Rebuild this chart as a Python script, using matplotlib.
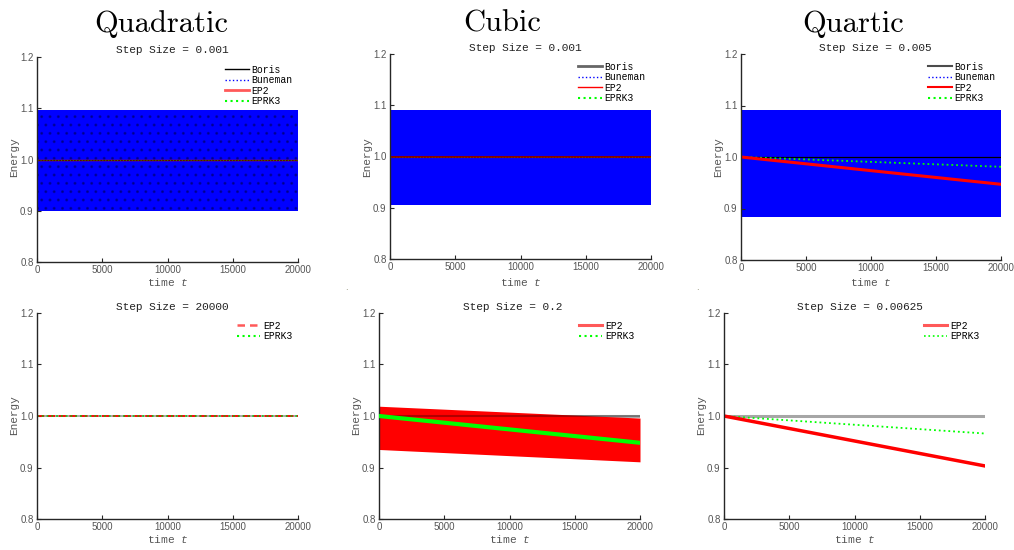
import matplotlib
matplotlib.use('Agg')
import matplotlib.pyplot as plt
from matplotlib.lines import Line2D

plt.rcParams['mathtext.fontset'] = 'custom'
plt.rcParams['mathtext.it'] = 'Liberation Mono:italic'
plt.rcParams['mathtext.rm'] = 'Liberation Mono'

# time span of every run
t_span = [0, 20000]
ref_energy = [1.0, 1.0]

# Quadratic potential, dt = 0.001
quad_boris = [1.0, 1.0]
quad_buneman_hi = [1.096, 1.096]
quad_buneman_lo = [0.900, 0.900]
quad_ep2 = [1.0, 1.0]
quad_eprk3 = [1.0, 1.0]

# Cubic potential, dt = 0.001
cub_boris = [1.0, 1.0]
cub_buneman_hi = [1.090, 1.090]
cub_buneman_lo = [0.905, 0.905]
cub_ep2 = [1.0, 1.0]
cub_eprk3 = [1.0, 1.0]

# Quartic potential, dt = 0.005
quar_boris = [1.0, 1.0]
quar_buneman_hi = [1.091, 1.091]
quar_buneman_lo = [0.883, 0.883]
quar_ep2 = [1.0, 0.947]
quar_eprk3 = [1.0, 0.981]

# large step runs (exponential integrators only)
quad_big_ep2 = [1.0, 1.0]
quad_big_eprk3 = [1.0, 1.0]
cub_big_ep2_hi = [1.019, 0.996]
cub_big_ep2_lo = [0.935, 0.911]
cub_big_eprk3 = [1.0, 0.948]
quar_big_ep2 = [1.0, 0.903]
quar_big_eprk3 = [1.0, 0.966]

col_titles = ['Quadratic', 'Cubic', 'Quartic']
top_steps = ['0.001', '0.001', '0.005']
bottom_steps = ['20000', '0.2', '0.00625']

W, H = 1014, 550
fig = plt.figure(figsize=(W / 100, H / 100), dpi=100)

MONO = 'Liberation Mono'
SANS = 'Liberation Sans'
GRAY = '#555555'

# axes boxes in pixels: left, right, top, bottom
boxes = [
    [(37, 298, 57, 262), (390, 651, 54, 259), (741, 1001, 54, 260)],
    [(37, 298, 313, 519), (379, 640, 313, 519), (724, 985, 313, 519)],
]


def make_axes(box):
    l, r, t, b = box
    ax = fig.add_axes([l / W, 1 - b / H, (r - l) / W, (b - t) / H])
    ax.set_xlim(0, 20000)
    ax.set_ylim(0.8, 1.2)
    ax.set_xticks([0, 5000, 10000, 15000, 20000])
    ax.set_yticks([0.8, 0.9, 1.0, 1.1, 1.2])
    ax.set_yticklabels(['0.8', '0.9', '1.0', '1.1', '1.2'])
    for s in ['top', 'right']:
        ax.spines[s].set_visible(False)
    for s in ['left', 'bottom']:
        ax.spines[s].set_color('#262626')
        ax.spines[s].set_linewidth(1.0)
    ax.tick_params(direction='in', length=3, width=0.8, color='#262626',
                   labelsize=7, labelcolor=GRAY, pad=2.5)
    for lab in ax.get_xticklabels() + ax.get_yticklabels():
        lab.set_family(SANS)
    ax.set_facecolor('none')
    return ax


def add_legend(ax, handles, labels):
    ax.legend(handles, labels, loc='upper right', bbox_to_anchor=(1.0, 0.99),
              frameon=False, prop={'family': MONO, 'size': 7},
              handlelength=2.4, handletextpad=0.25, labelspacing=0.05,
              borderaxespad=0.2)


def h(color, ls='-', lw=1.0, alpha=1.0):
    return Line2D([], [], color=color, ls=ls, lw=lw, alpha=alpha)


four_labels = ['Boris', 'Buneman', 'EP2', 'EPRK3']

# ---- top row ----
ax = make_axes(boxes[0][0])
ax.fill_between(t_span, quad_buneman_lo, quad_buneman_hi, color='#0000ff', lw=0)
ax.fill_between(t_span, quad_buneman_lo, quad_buneman_hi, facecolor='none',
                edgecolor='#000033', hatch='..', lw=0, alpha=0.35)
ax.plot(t_span, quad_ep2, color='red', lw=1.0)
ax.plot(t_span, quad_boris, color='black', lw=0.8, alpha=0.6)
ax.plot(t_span, quad_eprk3, color='#00ff00', lw=0.8, ls=':', alpha=0.5)
add_legend(ax, [h('black'), h('#0000ff', ':'), h('red', lw=2, alpha=0.65),
                h('#00ff00', ':', 1.5)], four_labels)

ax = make_axes(boxes[0][1])
ax.fill_between(t_span, cub_buneman_lo, cub_buneman_hi, color='#0000ff', lw=0)
ax.plot(t_span, cub_ep2, color='red', lw=1.5)
ax.plot(t_span, cub_boris, color='black', lw=1.2, alpha=0.55)
ax.plot(t_span, cub_eprk3, color='#00ff00', lw=0.8, ls=':', alpha=0.3)
add_legend(ax, [h('black', lw=2, alpha=0.6), h('#0000ff', ':'), h('red'),
                h('#00ff00', ':', 1.5)], four_labels)

ax = make_axes(boxes[0][2])
ax.fill_between(t_span, quar_buneman_lo, quar_buneman_hi, color='#0000ff', lw=0)
ax.plot(t_span, quar_boris, color='black', lw=0.9)
ax.plot(t_span, quar_eprk3, color='#00ff00', lw=1.3, ls=':')
ax.plot(t_span, quar_ep2, color='red', lw=2.2)
add_legend(ax, [h('black', lw=1.5, alpha=0.7), h('#0000ff', ':'), h('red', lw=1.5),
                h('#00ff00', ':', 1.5)], four_labels)

# ---- bottom row ----
ax = make_axes(boxes[1][0])
ax.plot(t_span, ref_energy, color='black', lw=1.2, alpha=0.4)
ax.plot(t_span, quad_big_ep2, color='red', lw=1.3, ls=(0, (4, 2)))
ax.plot(t_span, quad_big_eprk3, color='#00cc00', lw=1.3, ls=':', alpha=0.8)
add_legend(ax, [h('red', (0, (3, 2)), 1.8, 0.65), h('#00ff00', ':', 1.5)],
           ['EP2', 'EPRK3'])

ax = make_axes(boxes[1][1])
ax.plot(t_span, ref_energy, color='black', lw=2.0, alpha=0.35, zorder=1)
ax.fill_between(t_span, cub_big_ep2_lo, cub_big_ep2_hi, color='red', lw=0, zorder=2)
ax.plot(t_span, ref_energy, color='black', lw=1.5, alpha=0.3, zorder=3)
ax.plot(t_span, cub_big_eprk3, color='#00ff00', lw=3.0, zorder=4)
add_legend(ax, [h('red', lw=2.2, alpha=0.65), h('#00ff00', ':', 1.5)],
           ['EP2', 'EPRK3'])

ax = make_axes(boxes[1][2])
ax.plot(t_span, ref_energy, color='black', lw=2.2, alpha=0.35)
ax.plot(t_span, quar_big_eprk3, color='#00ff00', lw=1.3, ls=':')
ax.plot(t_span, quar_big_ep2, color='red', lw=2.5)
add_legend(ax, [h('red', lw=2.2, alpha=0.65), h('#00ff00', ':', 1.2)],
           ['EP2', 'EPRK3'])

# column headings
for x, name in zip([161, 502, 853], col_titles):
    fig.text(x / W, 1 - 32 / H, name, family='cmr10', fontsize=22,
             ha='center', va='baseline', color='black')

# step size titles
for x, y, step in zip([172, 525, 875], [50, 48, 48], top_steps):
    fig.text(x / W, 1 - y / H, 'Step Size = ' + step, family=MONO, fontsize=8,
             ha='center', va='center', color='#222222')
for x, step in zip([172, 513, 860], bottom_steps):
    fig.text(x / W, 1 - 307 / H, 'Step Size = ' + step, family=MONO, fontsize=8,
             ha='center', va='center', color='#222222')

# axis labels
for row, ylab_y, xlab_y in [(0, 157, 282), (1, 415, 539)]:
    for (l, r, t, b) in boxes[row]:
        fig.text((l - 23) / W, 1 - ylab_y / H, 'Energy', family=MONO, fontsize=8,
                 rotation=90, ha='center', va='center', color=GRAY)
        fig.text((l + r) / 2 / W, 1 - xlab_y / H, r'time $t$', family=MONO,
                 fontsize=8, ha='center', va='center', color=GRAY)

# stray markers between panels
for x, y in [(346, 287), (697, 288)]:
    fig.text(x / W, 1 - y / H, '.', fontsize=6, color='#777755',
             ha='center', va='center')

fig.savefig('out.png', dpi=100, facecolor='white')
